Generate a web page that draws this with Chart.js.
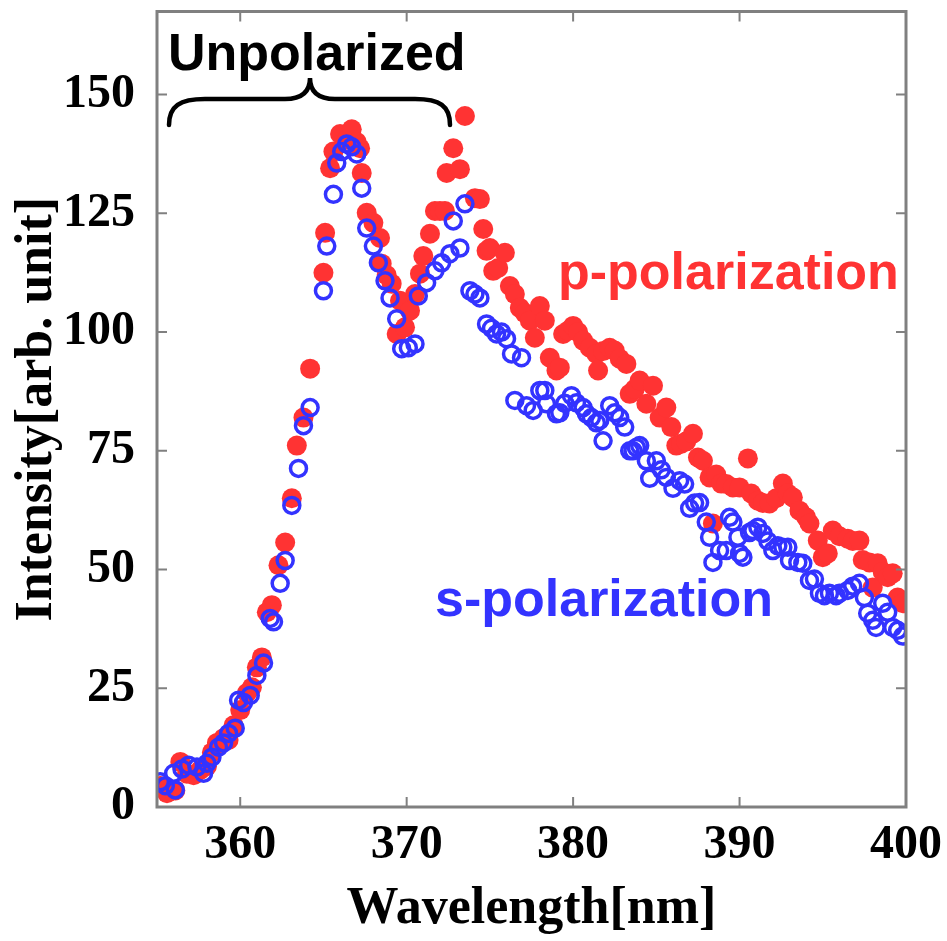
<!DOCTYPE html>
<html>
<head>
<meta charset="utf-8">
<script src="https://cdn.jsdelivr.net/npm/chart.js@4.4.1/dist/chart.umd.min.js"></script>
<style>
  html, body { margin: 0; padding: 0; background: #fff; }
  #wrap { width: 947px; height: 941px; }
</style>
</head>
<body>
<div id="wrap"><canvas id="spectrum" width="947" height="941"></canvas></div>
<script>
// p-polarization (filled red)
const pWave = [
  355.2, 355.6, 356.1, 356.4, 356.8, 357.2, 357.6, 358.0, 358.3, 358.6,
  359.0, 359.3, 359.6, 360.0, 360.4, 360.7, 361.0, 361.3, 361.6, 361.9,
  362.3, 362.7, 363.1, 363.4, 363.8, 364.2, 365.0, 365.1, 365.4, 365.6,
  366.0, 366.4, 366.7, 367.0, 367.2, 367.3, 367.6, 368.0, 368.4, 368.5,
  368.8, 369.1, 369.4, 369.6, 369.9, 370.2, 370.5, 370.8, 371.0, 371.4,
  371.7, 372.0, 372.3, 372.4, 372.8, 373.2, 373.5, 374.1, 374.4, 374.6,
  374.8, 375.0, 375.2, 375.5, 375.9, 376.2, 376.5, 376.8, 377.1, 377.4,
  377.7, 378.0, 378.3, 378.6, 379.0, 379.2, 379.4, 379.7, 380.0, 380.3,
  380.6, 381.0, 381.4, 381.5, 381.8, 382.2, 382.5, 382.8, 383.2, 383.4,
  383.7, 384.0, 384.4, 384.8, 385.2, 385.6, 385.9, 386.2, 386.5, 386.8,
  387.2, 387.5, 387.8, 388.2, 388.4, 388.6, 388.9, 389.2, 389.6, 390.0,
  390.5, 390.7, 391.1, 391.4, 391.8, 392.2, 392.6, 392.9, 393.2, 393.6,
  394.0, 394.2, 394.7, 395.0, 395.3, 395.6, 396.0, 396.5, 396.8, 397.2,
  397.4, 397.8, 398.0, 398.3, 398.6, 398.9, 399.2, 399.5, 399.8
];
const pIntensity = [
  4.4, 2.9, 3.5, 9.5, 7.0, 6.7, 7.8, 8.6, 11.5, 13.5,
  14.5, 14.1, 17.2, 20.4, 24.0, 25.2, 29.4, 31.5, 41.0, 42.5,
  50.9, 55.7, 65.0, 76.1, 82.0, 92.3, 112.5, 120.9, 134.5, 138.0,
  141.7, 140.5, 142.7, 140.0, 138.7, 133.5, 125.1, 123.0, 119.8, 114.4,
  112.0, 110.2, 99.6, 106.6, 101.0, 104.5, 108.0, 112.3, 116.0, 120.7,
  125.5, 125.5, 125.5, 133.5, 138.7, 134.3, 145.5, 128.2, 128.0, 121.7,
  117.1, 117.7, 112.9, 113.5, 116.7, 109.7, 108.0, 105.1, 104.0, 102.4,
  98.8, 105.5, 102.4, 94.6, 91.9, 92.5, 99.6, 100.3, 101.3, 100.0,
  98.2, 96.7, 95.4, 91.9, 96.0, 96.7, 96.1, 94.4, 93.3, 87.0,
  88.0, 89.8, 84.9, 88.7, 82.0, 84.1, 80.0, 76.1, 76.5, 77.0,
  78.6, 73.6, 72.9, 69.4, 59.7, 70.0, 68.1, 68.0, 67.3, 67.3,
  73.4, 66.0, 64.5, 64.0, 63.9, 65.0, 68.1, 66.0, 65.2, 62.4,
  61.0, 59.7, 56.1, 52.6, 53.4, 58.2, 57.0, 56.5, 56.0, 56.1,
  52.0, 51.5, 46.2, 51.3, 49.5, 48.4, 49.2, 44.1, 42.9
];

// s-polarization (open blue)
const sWave = [
  355.2, 355.5, 356.0, 356.1, 356.5, 356.9, 357.4, 357.8, 358.0, 358.3,
  358.7, 359.0, 359.3, 359.7, 359.9, 360.2, 360.6, 361.0, 361.4, 361.8,
  362.0, 362.4, 362.7, 363.1, 363.5, 363.8, 364.2, 365.0, 365.2, 365.6,
  365.8, 366.1, 366.4, 366.7, 367.0, 367.3, 367.6, 368.0, 368.3, 368.7,
  369.0, 369.4, 369.7, 370.1, 370.5, 370.7, 371.2, 371.7, 372.1, 372.6,
  372.8, 373.2, 373.5, 373.8, 374.1, 374.4, 374.8, 375.1, 375.4, 375.7,
  376.0, 376.3, 376.5, 376.9, 377.2, 377.6, 378.0, 378.3, 378.4, 379.0,
  379.2, 379.5, 379.9, 380.2, 380.6, 380.8, 381.1, 381.4, 381.6, 381.8,
  382.2, 382.5, 382.8, 383.1, 383.4, 383.6, 383.8, 384.0, 384.4, 384.6,
  385.0, 385.3, 385.6, 386.0, 386.4, 386.7, 387.0, 387.3, 387.6, 388.0,
  388.2, 388.4, 388.8, 389.2, 389.4, 389.6, 389.9, 390.0, 390.2, 390.6,
  390.8, 391.1, 391.4, 391.7, 392.0, 392.3, 392.6, 392.9, 393.0, 393.5,
  393.8, 394.2, 394.5, 394.8, 395.1, 395.4, 395.8, 396.0, 396.5, 396.8,
  397.2, 397.5, 397.7, 398.0, 398.2, 398.6, 398.9, 399.2, 399.5, 399.8
];
const sIntensity = [
  5.3, 4.5, 7.1, 3.6, 8.0, 8.8, 8.4, 7.1, 9.2, 10.5,
  12.6, 13.5, 15.5, 16.6, 22.5, 22.0, 23.5, 27.7, 30.3, 39.7,
  39.0, 47.1, 51.9, 63.5, 71.3, 80.3, 84.1, 108.7, 118.1, 129.0,
  135.6, 138.0, 139.6, 139.0, 137.5, 130.3, 121.9, 118.1, 114.6, 110.8,
  107.2, 102.8, 96.5, 96.7, 97.5, 107.6, 110.4, 112.9, 114.6, 116.5,
  123.4, 117.7, 127.0, 108.7, 108.0, 107.2, 101.7, 100.8, 99.6, 100.0,
  98.6, 95.4, 85.6, 94.6, 84.5, 83.5, 87.7, 87.7, 84.9, 82.8,
  83.0, 85.0, 86.6, 85.1, 84.1, 82.8, 82.0, 80.9, 81.4, 77.1,
  84.5, 83.0, 82.0, 80.0, 75.0, 75.0, 75.7, 76.1, 72.9, 69.2,
  72.9, 71.0, 69.4, 67.1, 68.7, 68.0, 62.9, 64.0, 64.1, 60.0,
  56.8, 51.5, 54.0, 54.0, 61.0, 60.0, 56.8, 53.4, 52.6, 57.8,
  58.2, 58.9, 57.6, 56.0, 54.0, 55.0, 54.7, 54.7, 51.9, 51.5,
  51.3, 47.7, 48.0, 45.0, 44.5, 45.0, 44.5, 45.0, 45.6, 46.5,
  47.1, 44.1, 40.8, 39.3, 37.8, 42.9, 41.0, 37.8, 37.2, 36.0
];

const xTicks = [360, 370, 380, 390, 400];
const yTicks = [0, 25, 50, 75, 100, 125, 150];

const RED = '#ff3333';
const BLUE = '#3333ff';
const tickFont = { family: '"Liberation Serif", "Times New Roman", serif', weight: 'bold', size: 48 };
const titleFont = { family: '"Liberation Serif", "Times New Roman", serif', weight: 'bold', size: 52 };

function toPoints(xs, ys) {
  return xs.map((v, i) => ({ x: v, y: ys[i] }));
}

const framePlugin = {
  id: 'frame',
  afterDatasetsDraw(chart) {
    const { ctx, chartArea: a, scales: { x, y } } = chart;
    ctx.save();
    // inward ticks on all four sides
    ctx.strokeStyle = '#808080';
    ctx.lineWidth = 2;
    ctx.beginPath();
    xTicks.forEach(v => {
      const px = x.getPixelForValue(v);
      ctx.moveTo(px, a.bottom); ctx.lineTo(px, a.bottom - 10);
      ctx.moveTo(px, a.top); ctx.lineTo(px, a.top + 10);
    });
    yTicks.forEach(v => {
      const py = y.getPixelForValue(v);
      ctx.moveTo(a.left, py); ctx.lineTo(a.left + 10, py);
      ctx.moveTo(a.right, py); ctx.lineTo(a.right - 10, py);
    });
    ctx.stroke();
    ctx.lineWidth = 3;
    ctx.strokeRect(a.left, a.top, a.right - a.left, a.bottom - a.top);

    // brace + labels
    ctx.font = 'bold 52px "Liberation Sans", Arial, sans-serif';
    ctx.textBaseline = 'alphabetic';
    ctx.fillStyle = '#000';
    ctx.fillText('Unpolarized', 168, 70);

    ctx.strokeStyle = '#000';
    ctx.lineWidth = 4.5;
    ctx.lineCap = 'round';
    ctx.beginPath();
    ctx.moveTo(169, 125);
    ctx.bezierCurveTo(169, 106, 180, 99, 205, 99);
    ctx.lineTo(285, 99);
    ctx.bezierCurveTo(302, 99, 310, 92, 310, 78);
    ctx.bezierCurveTo(310, 92, 318, 99, 335, 99);
    ctx.lineTo(415, 99);
    ctx.bezierCurveTo(440, 99, 450, 106, 450, 125);
    ctx.stroke();

    ctx.fillStyle = RED;
    ctx.fillText('p-polarization', 558, 289);
    ctx.fillStyle = BLUE;
    ctx.fillText('s-polarization', 435, 616);
    ctx.restore();
  }
};

new Chart(document.getElementById('spectrum'), {
  type: 'scatter',
  data: {
    datasets: [
      { label: 's-polarization', data: toPoints(sWave, sIntensity), order: 1,
        pointRadius: 8, pointBorderWidth: 3.5, borderColor: BLUE, pointBorderColor: BLUE,
        backgroundColor: 'rgba(0,0,0,0)', pointBackgroundColor: 'rgba(0,0,0,0)', clip: 0 },
      { label: 'p-polarization', data: toPoints(pWave, pIntensity), order: 2,
        pointRadius: 10, pointBorderWidth: 0, borderColor: RED,
        backgroundColor: RED, pointBackgroundColor: RED, clip: 0 }
    ]
  },
  options: {
    responsive: false,
    animation: false,
    layout: { padding: { left: 0, right: 41, top: 10, bottom: 0 } },
    plugins: { legend: { display: false }, tooltip: { enabled: false } },
    scales: {
      x: {
        type: 'linear', position: 'bottom', min: 355, max: 400,
        grid: { display: false }, border: { display: false },
        afterBuildTicks: s => { s.ticks = xTicks.map(v => ({ value: v })); },
        afterFit: s => { s.height = 134; s.paddingLeft = 0; s.paddingRight = 0; },
        ticks: { font: tickFont, color: '#000', padding: 2, maxRotation: 0 },
        title: { display: true, text: 'Wavelength[nm]', font: titleFont, color: '#000', padding: { top: 0, bottom: 0 } }
      },
      y: {
        type: 'linear', min: 0, max: 167.5,
        grid: { display: false }, border: { display: false },
        afterBuildTicks: s => { s.ticks = yTicks.map(v => ({ value: v })); },
        afterFit: s => { s.width = 157; s.paddingTop = 0; s.paddingBottom = 0; },
        ticks: { font: tickFont, color: '#000', padding: 14 },
        title: { display: true, text: 'Intensity[arb. unit]', font: titleFont, color: '#000', padding: { top: 6, bottom: 0 } }
      }
    }
  },
  plugins: [framePlugin]
});
</script>
</body>
</html>
